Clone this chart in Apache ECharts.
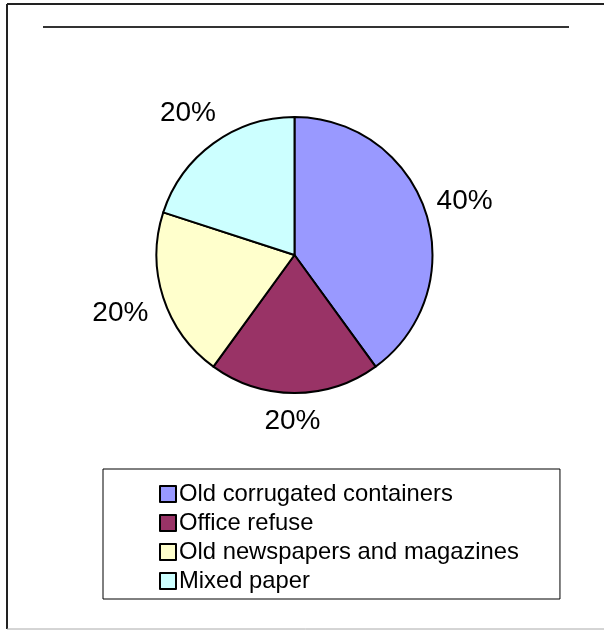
<!DOCTYPE html>
<html>
<head>
<meta charset="utf-8">
<style>
  html, body { margin: 0; padding: 0; background: #fff; }
  #chart { width: 604px; height: 630px; }
</style>
<script src="https://cdn.jsdelivr.net/npm/echarts@6/dist/echarts.min.js"></script>
</head>
<body>
<div id="chart"></div>
<script>
// categories and shares
const categories = ['Old corrugated containers', 'Office refuse', 'Old newspapers and magazines', 'Mixed paper'];
const shares = [40, 20, 20, 20];
const sliceColors = ['#9999ff', '#993366', '#ffffcc', '#ccffff'];

const font = '"Liberation Sans", Arial, sans-serif';

const chart = echarts.init(document.getElementById('chart'));

const option = {
  animation: false,
  backgroundColor: '#fff',
  color: sliceColors,
  legend: {
    orient: 'vertical',
    left: 103,
    top: 469,
    padding: [13, 41, 6, 56],
    itemWidth: 16,
    itemHeight: 16,
    itemGap: 5,
    borderColor: '#000',
    borderWidth: 1,
    icon: 'rect',
    itemStyle: { borderColor: '#000', borderWidth: 2 },
    textStyle: { fontFamily: font, fontSize: 23.8, color: '#000', padding: [0, 0, 0, -2] },
    data: categories
  },
  graphic: [
    // chart frame (right edge is cut off in the original)
    { type: 'line', shape: { x1: 7, y1: 4, x2: 604, y2: 4 }, style: { stroke: '#222', lineWidth: 2 } },
    { type: 'line', shape: { x1: 7, y1: 4, x2: 7, y2: 629 }, style: { stroke: '#222', lineWidth: 2 } },
    { type: 'line', shape: { x1: 7, y1: 629, x2: 604, y2: 629 }, style: { stroke: '#aaa', lineWidth: 1 } },
    // rule under the (empty) title
    { type: 'line', shape: { x1: 43, y1: 27, x2: 569, y2: 27 }, style: { stroke: '#333', lineWidth: 2 } }
  ],
  series: [
    {
      type: 'pie',
      center: [294.5, 255],
      radius: 138,
      startAngle: 90,
      clockwise: true,
      avoidLabelOverlap: false,
      itemStyle: { borderColor: '#000', borderWidth: 2 },
      emphasis: { disabled: true },
      label: {
        show: true,
        position: 'outside',
        formatter: '{d}%',
        fontFamily: font,
        fontSize: 28,
        color: '#000'
      },
      labelLine: { show: true, length: 10, length2: 0, lineStyle: { opacity: 0 } },
      labelLayout: function (p) {
        const pts = p.labelLinePoints;
        if (!pts) return {};
        const dx = pts[1][0] - pts[0][0];
        const dy = pts[1][1] - pts[0][1];
        const len = Math.hypot(dx, dy) || 1;
        const ux = dx / len, uy = dy / len;
        const w = p.labelRect.width, h = p.labelRect.height;
        const off = 12 + Math.abs(ux) * w / 2 + Math.abs(uy) * h / 2;
        return {
          x: pts[0][0] + ux * off - 2,
          y: pts[0][1] + uy * off + 2,
          align: 'center',
          verticalAlign: 'middle'
        };
      },
      data: categories.map((name, i) => ({ name: name, value: shares[i] }))
    }
  ]
};

chart.setOption(option);
</script>
</body>
</html>
